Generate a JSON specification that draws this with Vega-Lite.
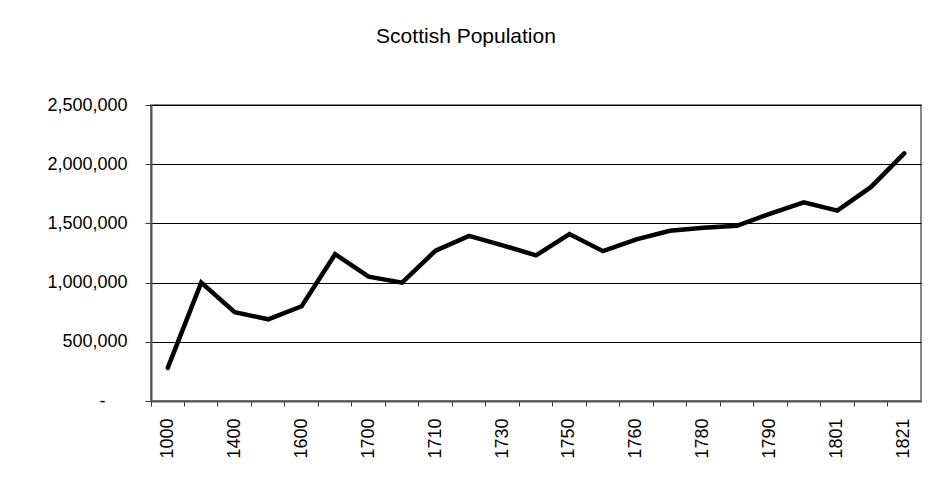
{
  "$schema": "https://vega.github.io/schema/vega-lite/v6.json",
  "autosize": "none",
  "width": 770,
  "height": 296,
  "padding": {"left": 151, "top": 105, "right": 10, "bottom": 84},
  "background": "white",
  "title": {
    "text": "Scottish Population",
    "font": "Liberation Sans",
    "fontSize": 21,
    "fontWeight": "normal",
    "color": "black",
    "frame": "group",
    "anchor": "middle",
    "dx": -70,
    "baseline": "alphabetic",
    "offset": 32
  },
  "config": {
    "font": "Liberation Sans",
    "view": {"stroke": "#888888", "strokeWidth": 2}
  },
  "data": {
    "values": [
      {"year": "1000", "population": 280000},
      {"year": "1300", "population": 1000000},
      {"year": "1400", "population": 750000},
      {"year": "1500", "population": 690000},
      {"year": "1600", "population": 800000},
      {"year": "1650", "population": 1240000},
      {"year": "1700", "population": 1050000},
      {"year": "1705", "population": 1000000},
      {"year": "1710", "population": 1270000},
      {"year": "1720", "population": 1395000},
      {"year": "1730", "population": 1315000},
      {"year": "1740", "population": 1230000},
      {"year": "1750", "population": 1410000},
      {"year": "1755", "population": 1265380},
      {"year": "1760", "population": 1365000},
      {"year": "1770", "population": 1438000},
      {"year": "1780", "population": 1463000},
      {"year": "1785", "population": 1480000},
      {"year": "1790", "population": 1582000},
      {"year": "1795", "population": 1678000},
      {"year": "1801", "population": 1608420},
      {"year": "1811", "population": 1805864},
      {"year": "1821", "population": 2091521}
    ]
  },
  "mark": {
    "type": "line",
    "color": "black",
    "strokeWidth": 4.5,
    "strokeCap": "round",
    "strokeJoin": "miter"
  },
  "encoding": {
    "x": {
      "field": "year",
      "type": "nominal",
      "sort": null,
      "scale": {"type": "band", "paddingInner": 0, "paddingOuter": 0},
      "axis": {
        "title": null,
        "bandPosition": 0,
        "labelAngle": 270,
        "labelAlign": "right",
        "labelBaseline": "middle",
        "labelFontSize": 18,
        "labelColor": "black",
        "labelPadding": 12,
        "labelOverlap": false,
        "labelExpr": "indexof(['1000','1400','1600','1700','1710','1730','1750','1760','1780','1790','1801','1821'], datum.value) >= 0 ? datum.label : ''",
        "tickSize": 5,
        "tickColor": "#333333",
        "tickWidth": 1,
        "domainColor": "#555555",
        "domainWidth": 2,
        "grid": false
      }
    },
    "y": {
      "field": "population",
      "type": "quantitative",
      "scale": {"domain": [0, 2500000], "nice": false},
      "axis": {
        "title": null,
        "values": [0, 500000, 1000000, 1500000, 2000000, 2500000],
        "labelExpr": "datum.value == 0 ? '-' : format(datum.value, ',')",
        "labelFontSize": 18,
        "labelColor": "black",
        "labelPadding": {"condition": {"test": "datum.value == 0", "value": 40}, "value": 18},
        "tickSize": 6,
        "tickColor": "#333333",
        "tickWidth": 1,
        "domainColor": "#555555",
        "domainWidth": 2,
        "grid": true,
        "gridColor": "black",
        "gridWidth": 1,
        "gridOpacity": 1
      }
    }
  }
}
